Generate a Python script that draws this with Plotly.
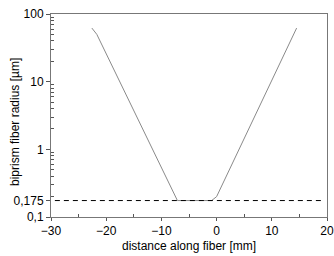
import plotly.graph_objects as go

# fiber profile
dist_mm = [-22.6, -21.7, -7.1, -0.9, 0.0, 14.5]
radius_um = [62, 50, 0.175, 0.175, 0.2, 62]

# reference level
ref_x = [-29.3, 19.3]
ref_y = [0.175, 0.175]

x_ticks = [-30, -20, -10, 0, 10, 20]
x_minor = [-25, -15, -5, 5, 15]
y_ticks = [0.1, 0.175, 1, 10, 100]
y_ticklabels = ["0,1", "0,175", "1", "10", "100"]
y_minor = [0.2, 0.3, 0.4, 0.5, 0.6, 0.7, 0.8, 0.9,
           2, 3, 4, 5, 6, 7, 8, 9, 20, 30, 40, 50, 60, 70, 80, 90]

fig = go.Figure()
fig.add_trace(go.Scatter(x=dist_mm, y=radius_um, mode="lines",
                         line=dict(color="#8a8a8a", width=1), showlegend=False))
fig.add_trace(go.Scatter(x=ref_x, y=ref_y, mode="lines",
                         line=dict(color="black", width=1, dash="5px,4px"), showlegend=False))

font = dict(family="Liberation Sans, Arial, sans-serif", size=12, color="black")
L, R, T, B = 51, 7, 14, 39
W, H = 334, 256
pw, ph = W - L - R, H - T - B
fig.update_layout(
    width=W, height=H,
    margin=dict(l=L, r=R, t=T, b=B),
    plot_bgcolor="white", paper_bgcolor="white",
    font=font,
    xaxis=dict(range=[-30, 20], tickvals=x_ticks, ticks="outside", ticklen=3,
               tickcolor="#555", showline=True, linecolor="#777", linewidth=1,
               mirror=True, showgrid=False, zeroline=False, automargin=False,
               minor=dict(tickvals=x_minor, ticks="inside", ticklen=3, tickcolor="#555")),
    yaxis=dict(type="log", range=[-1, 2], tickvals=y_ticks, ticktext=y_ticklabels,
               ticks="outside", ticklen=4, tickcolor="#555", showline=True,
               linecolor="#777", linewidth=1, mirror=True, showgrid=False, zeroline=False,
               automargin=False,
               minor=dict(tickvals=y_minor, ticks="inside", ticklen=3, tickcolor="#555")),
    annotations=[
        dict(text="distance along fiber [mm]", xref="paper", yref="paper",
             x=(188.5 - L) / pw, y=(T + ph - 246) / ph, xanchor="center", yanchor="middle",
             showarrow=False, font=font),
        dict(text="biprism fiber radius [µm]", xref="paper", yref="paper",
             x=(15 - L) / pw, y=(T + ph - 122) / ph, xanchor="center", yanchor="middle",
             textangle=-90, showarrow=False, font=font),
    ],
)
fig.write_html("out.html", config={"displayModeBar": False},
               post_script="document.body.style.margin='0';document.body.style.padding='0';")
